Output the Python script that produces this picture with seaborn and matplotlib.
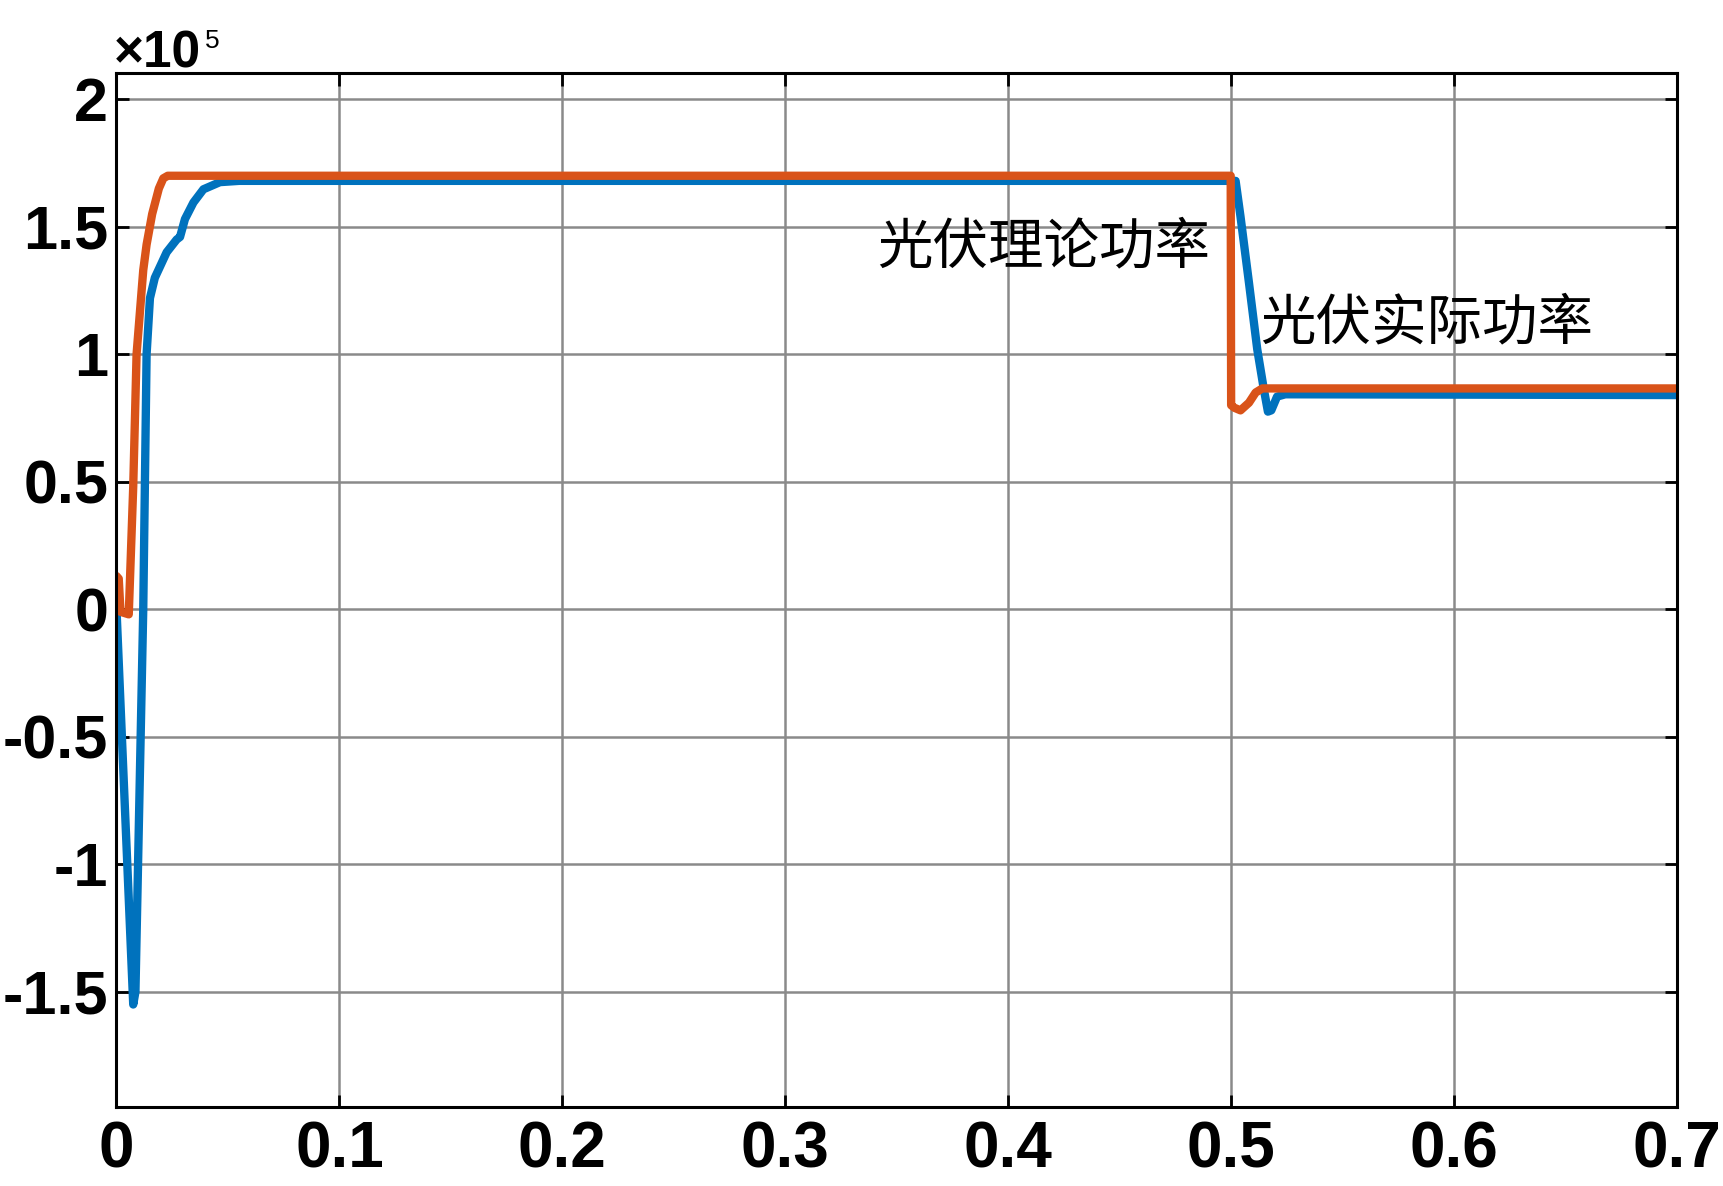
import numpy as np
import pandas as pd
import matplotlib
matplotlib.use("Agg")
import matplotlib.pyplot as plt
import seaborn as sns

# ---- data (power, in units of 1e5 W) ----
t_actual = [0, 0.0075, 0.0085, 0.012, 0.0135, 0.015, 0.0172, 0.0225, 0.027, 0.0285,
            0.0307, 0.0345, 0.039, 0.0464, 0.055, 0.5, 0.502, 0.5042, 0.508, 0.5117,
            0.5146, 0.5165, 0.518, 0.5206, 0.5243, 0.7]
p_actual = [0, -1.55, -1.5, 0, 1.0, 1.22, 1.30, 1.40, 1.45, 1.46,
            1.53, 1.595, 1.647, 1.675, 1.68, 1.68, 1.68, 1.54, 1.28, 1.02,
            0.866, 0.775, 0.78, 0.834, 0.843, 0.84]

t_theory = [0, 0.001, 0.0018, 0.0055, 0.0075, 0.009, 0.012, 0.0135, 0.016, 0.019,
            0.021, 0.023, 0.4998, 0.5, 0.5015, 0.5042, 0.508, 0.511, 0.514, 0.7]
p_theory = [0.13, 0.12, -0.01, -0.02, 0.48, 1.0, 1.33, 1.43, 1.55, 1.65,
            1.69, 1.70, 1.70, 0.80, 0.79, 0.78, 0.81, 0.85, 0.866, 0.866]

x_ticks = [0, 0.1, 0.2, 0.3, 0.4, 0.5, 0.6, 0.7]
x_tick_labels = ["0", "0.1", "0.2", "0.3", "0.4", "0.5", "0.6", "0.7"]
y_ticks = [-1.5, -1, -0.5, 0, 0.5, 1, 1.5, 2]
y_tick_labels = ["-1.5", "-1", "-0.5", "0", "0.5", "1", "1.5", "2"]

label_theory = "光伏理论功率"
label_actual = "光伏实际功率"

df_actual = pd.DataFrame({"t": t_actual, "p": p_actual})
df_theory = pd.DataFrame({"t": t_theory, "p": p_theory})

sns.set_theme(style="whitegrid")
plt.rcParams["font.family"] = ["Liberation Sans", "Noto Sans CJK SC", "DejaVu Sans"]

W, H = 1723, 1186
fig = plt.figure(figsize=(W / 100, H / 100), dpi=100)
fig.patch.set_facecolor("white")
ax = fig.add_axes([116.5 / W, 1 - 1107 / H, (1677 - 116.5) / W, (1107 - 73) / H])
ax.set_facecolor("white")

sns.lineplot(data=df_actual, x="t", y="p", ax=ax, color="#0072BD", linewidth=6,
             sort=False, estimator=None)
sns.lineplot(data=df_theory, x="t", y="p", ax=ax, color="#D95319", linewidth=6,
             sort=False, estimator=None)

ax.set_xlim(0, 0.7)
ax.set_ylim(-1.952, 2.103)
ax.set_xticks(x_ticks)
ax.set_xticklabels(x_tick_labels)
ax.set_yticks(y_ticks)
ax.set_yticklabels(y_tick_labels)
ax.set_xlabel("")
ax.set_ylabel("")

ax.grid(True, color="#8a8a8a", linewidth=1.8)
for s in ax.spines.values():
    s.set_visible(True)
    s.set_color("black")
    s.set_linewidth(2.2)

ax.tick_params(axis="both", which="both", direction="in", length=9, width=2,
               color="black", top=True, right=True, bottom=True, left=True,
               labelcolor="black")
ax.tick_params(axis="x", pad=10, labelsize=46)
ax.tick_params(axis="y", pad=6, labelsize=44)
for lab in ax.get_xticklabels() + ax.get_yticklabels():
    lab.set_fontweight("bold")
    lab.set_family("Liberation Sans")

# exponent label (x10^5)
fig.text(114 / W, 1 - 67 / H, "×10", fontsize=37, family="Liberation Sans",
         fontweight="bold", ha="left", va="baseline", color="black")
fig.text(205 / W, 1 - 48 / H, "5", fontsize=19, family="Liberation Sans",
         ha="left", va="baseline", color="black")

ax.text(0.341, 1.419, label_theory, fontsize=40, family=["Noto Sans CJK SC"],
        ha="left", va="center", color="black")
ax.text(0.5128, 1.121, label_actual, fontsize=40, family=["Noto Sans CJK SC"],
        ha="left", va="center", color="black")

fig.savefig("out.png", dpi=100, facecolor="white")
